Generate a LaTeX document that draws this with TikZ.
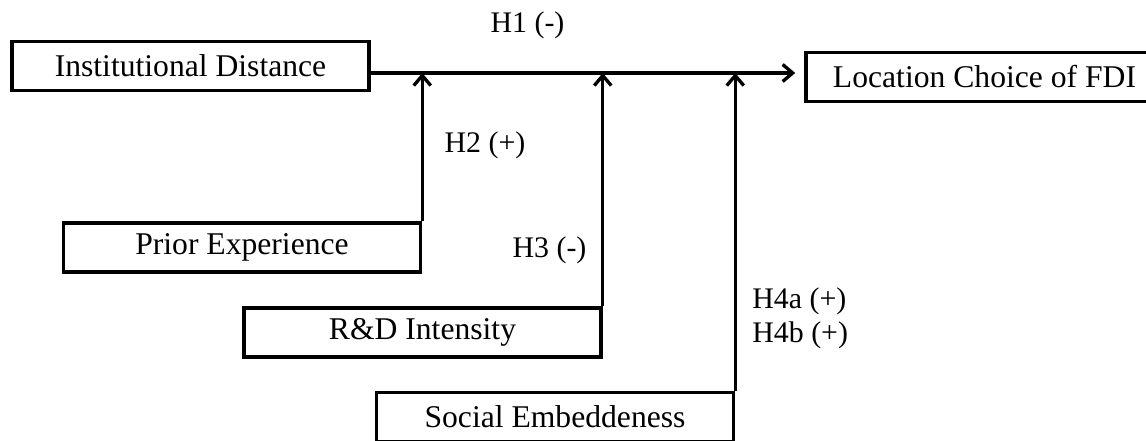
\documentclass[tikz,border=0pt]{standalone}
\usepackage{fontspec}
\setmainfont{Liberation Serif}
\usetikzlibrary{arrows.meta}

\begin{document}
\begin{tikzpicture}[
boxnode/.style={rectangle, draw=black, line width=2pt, minimum width=7.14cm, minimum height=0.98cm, inner sep=0pt, font=\fontsize{18}{20}\selectfont},
hyponode/.style={inner sep=0pt, font=\fontsize{17}{19}\selectfont},
linkarrow/.style={line width=1.9pt, -{Straight Barb[length=2mm, width=3.4mm]}},
]
\useasboundingbox (0,0) rectangle (22.92,8.8);
%Nodes
\node[boxnode] at (3.81,7.48) (inst)   {Institutional Distance};
\node[boxnode] at (19.69,7.26) (loc)   {Location Choice of FDI};
\node[boxnode] at (4.84,3.85) (prior)  {Prior Experience};
\node[boxnode] at (8.45,2.15) (rnd)    {R\&D Intensity};
\node[boxnode] at (11.10,0.46) (social) {Social Embeddeness};
%Hypotheses
\node[hyponode] at (10.55,8.30) (h1) {H1 (-)};
\node[hyponode] at (9.70,5.90) (h2)  {H2 (+)};
\node[hyponode] at (10.99,3.80) (h3) {H3 (-)};
\node[hyponode, align=left, anchor=west] at (15.04,2.43) (h4) {H4a (+)\\H4b (+)};
%Lines
\coordinate (hstart) at ([yshift=-0.14cm]inst.east);
\draw[linkarrow, shorten >=0.18cm] (hstart) -- (hstart -| loc.west);
\draw[linkarrow] (prior.north east) -- (prior.north east |- hstart);
\draw[linkarrow] (rnd.north east) -- (rnd.north east |- hstart);
\draw[linkarrow] (social.north east) -- (social.north east |- hstart);
\end{tikzpicture}
\end{document}
